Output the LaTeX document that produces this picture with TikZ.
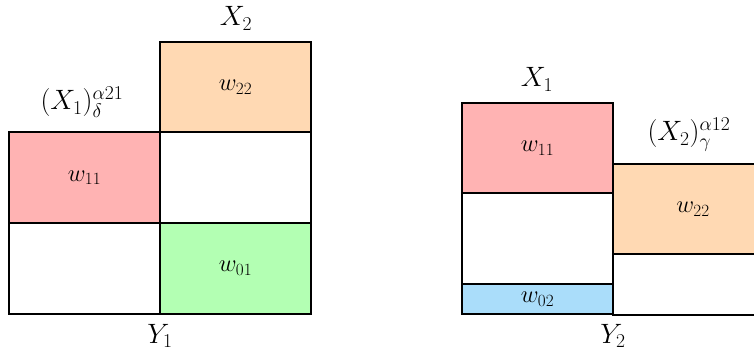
\RequirePackage{fix-cm}
\documentclass[tikz,border=0pt]{standalone}
\usepackage{amsmath}
\definecolor{cred}{RGB}{255,179,179}
\definecolor{corange}{RGB}{255,217,179}
\definecolor{cgreen}{RGB}{179,255,179}
\definecolor{cblue}{RGB}{170,221,250}
\begin{document}
\begin{tikzpicture}[x=1pt,y=-1pt,
  cell/.style={draw=black, line width=2pt, inner sep=0pt, outer sep=0pt,
    font=\fontsize{24.5}{28}\selectfont},
  lab/.style={inner sep=0pt, anchor=base, font=\fontsize{28}{32}\selectfont}]
\useasboundingbox (0,0) rectangle (754,352);
\clip (0,0) rectangle (754,352);
% left diagram
\node[cell, fill=corange, minimum width=151pt, minimum height=90.5pt] (l22) at (235.5,87.25) {$w_{22}$};
\node[cell, fill=cred, minimum width=151pt, minimum height=90.5pt] (l11) at (84.5,177.75) {$w_{11}$};
\node[cell, fill=white, minimum width=151pt, minimum height=90.5pt] (lmid) at (235.5,177.75) {};
\node[cell, fill=white, minimum width=151pt, minimum height=90.5pt] (lbl) at (84.5,268.25) {};
\node[cell, fill=cgreen, minimum width=151pt, minimum height=90.5pt] (l01) at (235.5,268.25) {$w_{01}$};
\node[lab] (lX2) at (236,26) {$X_2$};
\node[lab] (lX1) at (82,110) {$(X_1)_\delta^{\alpha21}$};
\node[lab] (lY1) at (160,343) {$Y_1$};
% right diagram
\node[cell, fill=cred, minimum width=151pt, minimum height=90.5pt] (r11) at (537.5,148.25) {$w_{11}$};
\node[cell, fill=white, minimum width=151pt, minimum height=91pt] (rmid) at (537.5,239) {};
\node[cell, fill=cblue, minimum width=151pt, minimum height=29.5pt] (r02) at (537.5,299.25) {$w_{02}$};
\node[cell, fill=corange, minimum width=160pt, minimum height=90.5pt] (r22) at (693,209.25) {$w_{22}$};
\node[cell, fill=white, minimum width=160pt, minimum height=60pt] (rbot) at (693,284.5) {};
\node[lab] (rX1) at (537,87) {$X_1$};
\node[lab] (rX2) at (689,141) {$(X_2)_\gamma^{\alpha12}$};
\node[lab] (rY2) at (613,343) {$Y_2$};
\end{tikzpicture}
\end{document}
